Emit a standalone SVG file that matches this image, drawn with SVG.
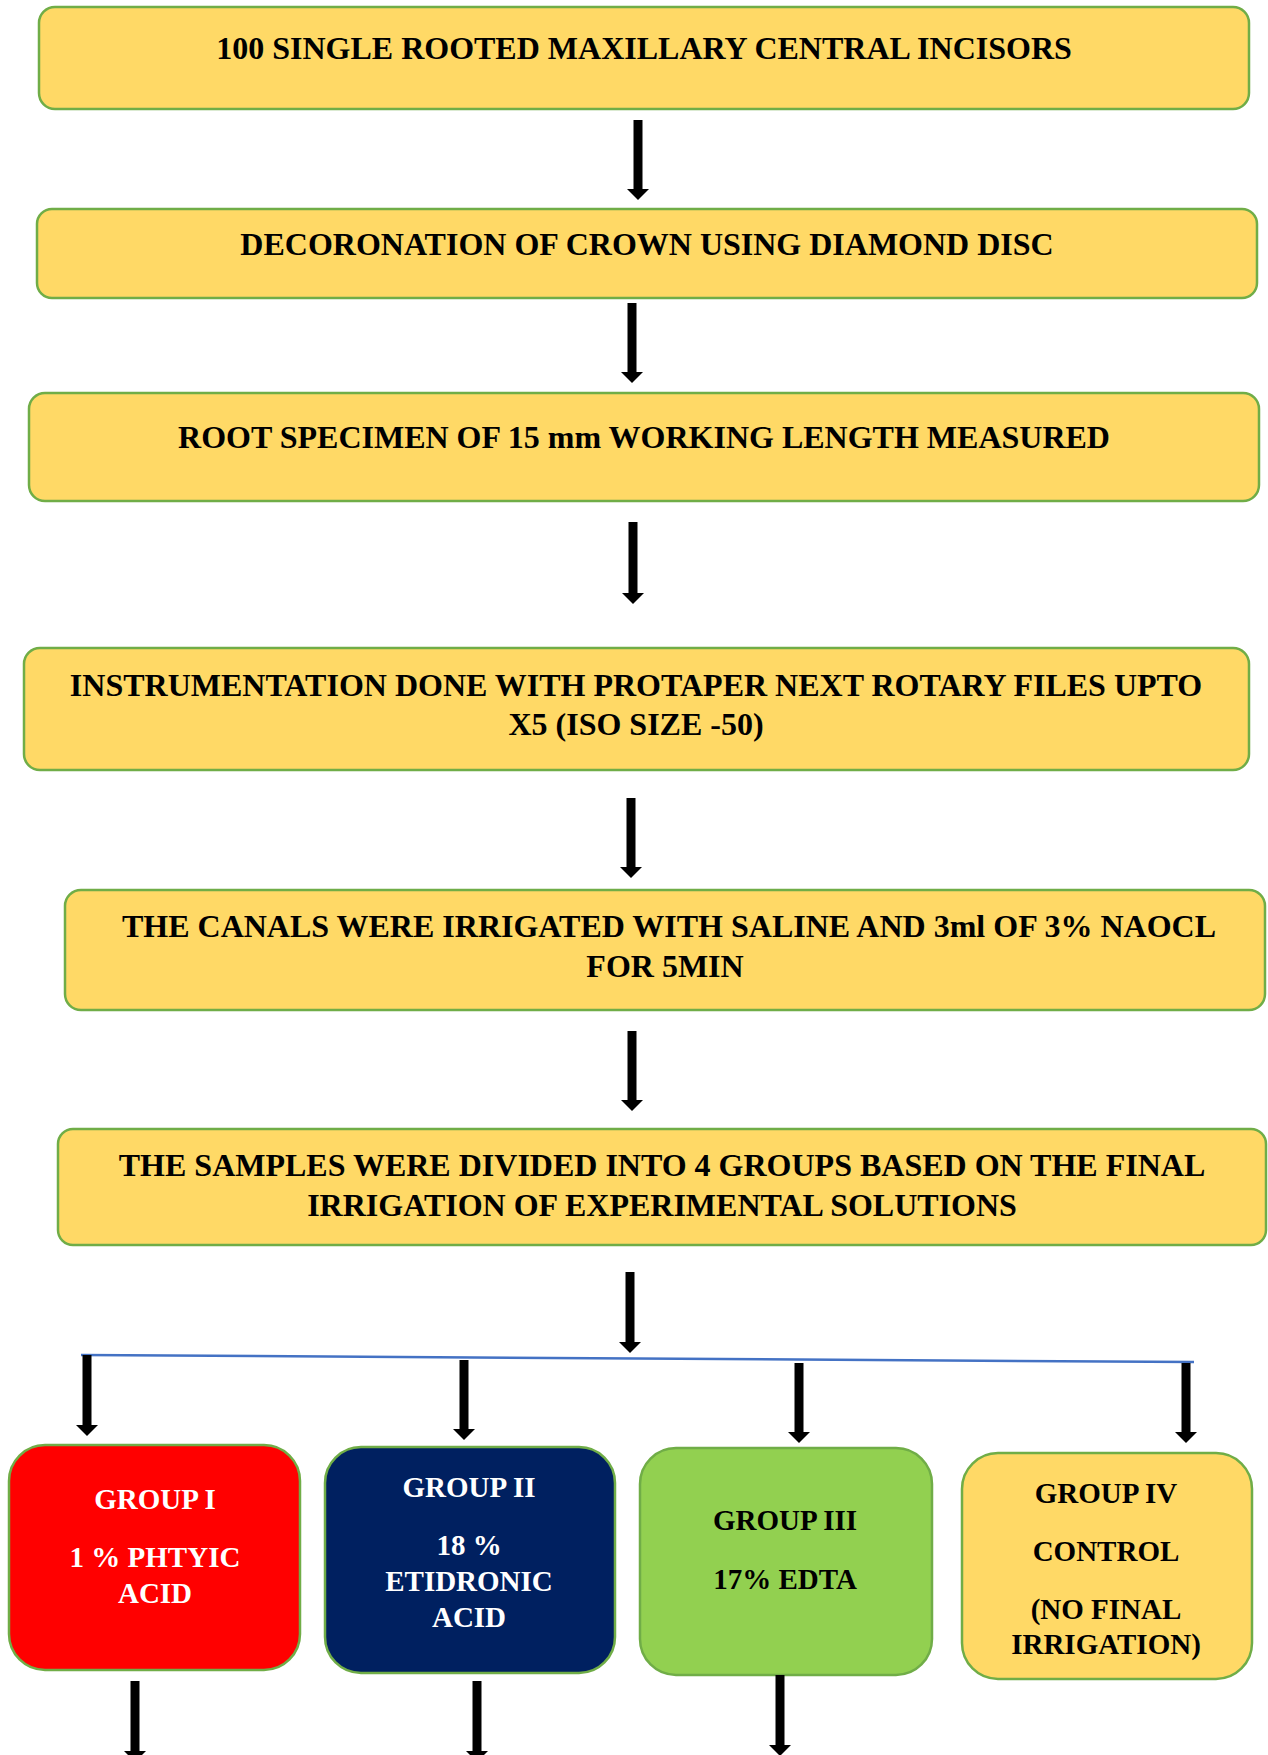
<svg xmlns="http://www.w3.org/2000/svg" width="1268" height="1755" viewBox="0 0 1268 1755">
<style>
.box{fill:#FFD966;stroke:#70AD47;stroke-width:2.5}
.t{font-family:"Liberation Serif","Times New Roman",serif;font-weight:bold;font-size:32px;fill:#000;text-anchor:middle}
.g{font-family:"Liberation Serif","Times New Roman",serif;font-weight:bold;font-size:29px;text-anchor:middle}
.w{fill:#fff}
.k{fill:#000}
.arr{stroke:#000;stroke-width:9;fill:none;marker-end:url(#ah)}
</style>
<defs>
<marker id="ah" markerUnits="userSpaceOnUse" markerWidth="11" markerHeight="22" refX="0" refY="11" orient="auto" overflow="visible">
<path d="M0,0 L11,11 L0,22 z" fill="#000"/>
</marker>
</defs>
<rect width="1268" height="1755" fill="#fff"/>
<g id="n1"><rect class="box" x="39" y="7" width="1210" height="102" rx="16"/><text class="t" x="644" y="59">100 SINGLE ROOTED MAXILLARY CENTRAL INCISORS</text></g>
<g id="n2"><rect class="box" x="37" y="209" width="1220" height="89" rx="15"/><text class="t" x="647" y="255">DECORONATION OF CROWN USING DIAMOND DISC</text></g>
<g id="n3"><rect class="box" x="29" y="393" width="1230" height="108" rx="16"/><text class="t" x="644" y="448">ROOT SPECIMEN OF 15 mm WORKING LENGTH MEASURED</text></g>
<g id="n4"><rect class="box" x="24" y="648" width="1225" height="122" rx="16"/><text class="t" x="636" y="696">INSTRUMENTATION DONE WITH PROTAPER NEXT ROTARY FILES UPTO</text><text class="t" x="636" y="735">X5 (ISO SIZE -50)</text></g>
<g id="n5"><rect class="box" x="65" y="890" width="1200" height="120" rx="16"/><text class="t" x="669" y="937">THE CANALS WERE IRRIGATED WITH SALINE AND 3ml OF 3% NAOCL</text><text class="t" x="665" y="977">FOR 5MIN</text></g>
<g id="n6"><rect class="box" x="58" y="1129" width="1208" height="116" rx="15"/><text class="t" x="662" y="1176">THE SAMPLES WERE DIVIDED INTO 4 GROUPS BASED ON THE FINAL</text><text class="t" x="662" y="1216">IRRIGATION OF EXPERIMENTAL SOLUTIONS</text></g>
<g id="g1"><rect x="9" y="1445" width="291" height="225" rx="36" fill="#FF0000" stroke="#70AD47" stroke-width="2.5"/><text class="g w" x="155" y="1509">GROUP I</text><text class="g w" x="155" y="1567">1 % PHTYIC</text><text class="g w" x="155" y="1603">ACID</text></g>
<g id="g2"><rect x="325" y="1447" width="290" height="226" rx="36" fill="#002060" stroke="#70AD47" stroke-width="2.5"/><text class="g w" x="469" y="1497">GROUP II</text><text class="g w" x="469" y="1555">18 %</text><text class="g w" x="469" y="1591">ETIDRONIC</text><text class="g w" x="469" y="1627">ACID</text></g>
<g id="g3"><rect x="640" y="1448" width="292" height="227" rx="36" fill="#92D050" stroke="#70AD47" stroke-width="2.5"/><text class="g k" x="785" y="1530">GROUP III</text><text class="g k" x="785" y="1589">17% EDTA</text></g>
<g id="g4"><rect x="962" y="1453" width="290" height="226" rx="36" fill="#FFD966" stroke="#70AD47" stroke-width="2.5"/><text class="g k" x="1106" y="1503">GROUP IV</text><text class="g k" x="1106" y="1561">CONTROL</text><text class="g k" x="1106" y="1619">(NO FINAL</text><text class="g k" x="1106" y="1654">IRRIGATION)</text></g>
<g id="connectors">
<line class="arr" x1="638" y1="120" x2="638" y2="189"/>
<line class="arr" x1="632" y1="303" x2="632" y2="372"/>
<line class="arr" x1="633" y1="522" x2="633" y2="593"/>
<line class="arr" x1="631" y1="798" x2="631" y2="867"/>
<line class="arr" x1="632" y1="1031" x2="632" y2="1100"/>
<line class="arr" x1="630" y1="1272" x2="630" y2="1342"/>
<line x1="81" y1="1355" x2="1194" y2="1362" stroke="#4472C4" stroke-width="2.5"/>
<line class="arr" x1="87" y1="1355" x2="87" y2="1425"/>
<line class="arr" x1="464" y1="1360" x2="464" y2="1429"/>
<line class="arr" x1="799" y1="1363" x2="799" y2="1432"/>
<line class="arr" x1="1186" y1="1363" x2="1186" y2="1432"/>
<line class="arr" x1="135" y1="1681" x2="135" y2="1751"/>
<line class="arr" x1="477" y1="1681" x2="477" y2="1751"/>
<line class="arr" x1="780" y1="1675" x2="780" y2="1745"/>
</g>
</svg>
